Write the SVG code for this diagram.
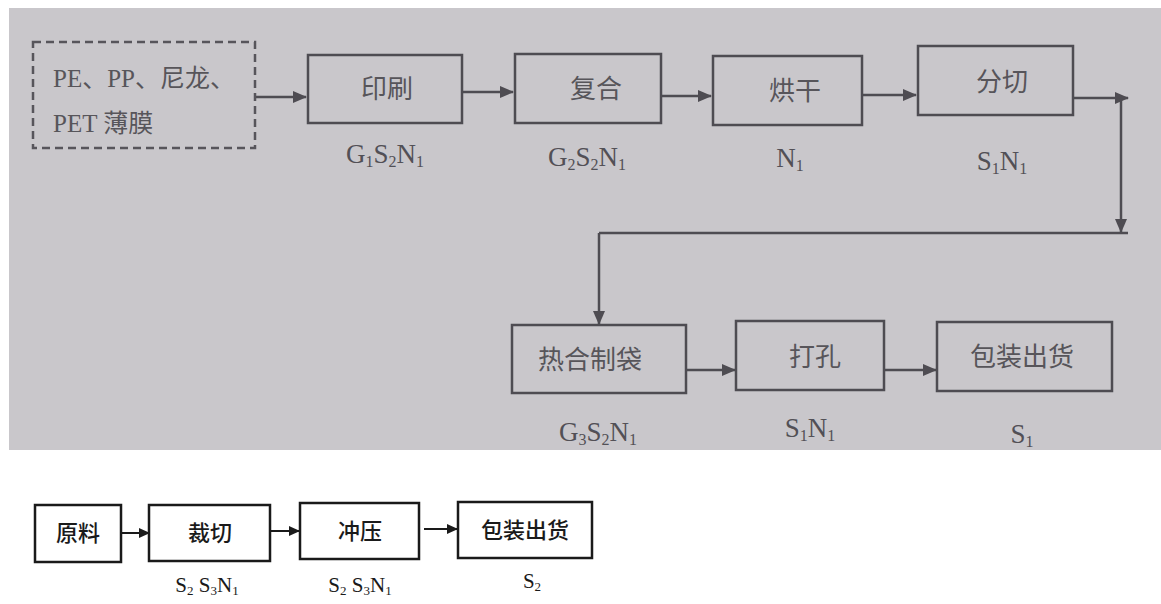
<svg xmlns="http://www.w3.org/2000/svg" width="1161" height="604" viewBox="0 0 1161 604">
<style>
.bg{fill:#c9c7cb}
.tbox{fill:none;stroke:#4e4c52;stroke-width:2.5}
.dbox{fill:none;stroke:#57555b;stroke-width:2.5;stroke-dasharray:8 5}
.ttxt{font-family:"Liberation Serif","Noto Sans CJK SC",serif;font-size:26px;fill:#57555a;text-anchor:middle}
.ftxt{font-family:"Liberation Serif","Noto Sans CJK SC",serif;font-size:25px;fill:#57555a}
.tlab{font-family:"Liberation Serif",serif;font-size:27px;fill:#525056;text-anchor:middle}
.sub{font-size:16px}
.bsub{font-size:13px}
.tline{fill:none;stroke:#4e4c52;stroke-width:2.5}
.bbox{fill:#fff;stroke:#1a1a1a;stroke-width:2.5}
.btxt{font-family:"Noto Sans CJK SC",sans-serif;font-size:22px;font-weight:500;fill:#1a1a1a;text-anchor:middle}
.blab{font-family:"Liberation Serif",serif;font-size:21px;fill:#1a1a1a;text-anchor:middle}
.bline{fill:none;stroke:#1a1a1a;stroke-width:2}
</style>
<defs>
<marker id="ta" markerWidth="14" markerHeight="12" refX="13" refY="6" orient="auto" markerUnits="userSpaceOnUse">
<path d="M0,0 L14,6 L0,12 Z" fill="#4e4c52"/>
</marker>
<marker id="ba" markerWidth="11" markerHeight="10" refX="10" refY="5" orient="auto" markerUnits="userSpaceOnUse">
<path d="M0,0 L11,5 L0,10 Z" fill="#1a1a1a"/>
</marker>
</defs>
<rect class="bg" x="9" y="8" width="1152" height="442"/>

<g id="connectors">
<line class="tline" x1="255" y1="97" x2="306" y2="97" marker-end="url(#ta)"/>
<line class="tline" x1="462" y1="92" x2="513" y2="92" marker-end="url(#ta)"/>
<line class="tline" x1="661" y1="96" x2="711" y2="96" marker-end="url(#ta)"/>
<line class="tline" x1="862" y1="95" x2="916" y2="95" marker-end="url(#ta)"/>
<line class="tline" x1="1073" y1="98" x2="1128" y2="98" marker-end="url(#ta)"/>
<line class="tline" x1="1121" y1="98" x2="1121" y2="232" marker-end="url(#ta)"/>
<line class="tline" x1="599" y1="233" x2="1128" y2="233"/>
<line class="tline" x1="599" y1="233" x2="599" y2="324" marker-end="url(#ta)"/>
<line class="tline" x1="686" y1="370" x2="735" y2="370" marker-end="url(#ta)"/>
<line class="tline" x1="884" y1="370" x2="936" y2="370" marker-end="url(#ta)"/>
<line class="bline" x1="120" y1="533" x2="149" y2="533" marker-end="url(#ba)"/>
<line class="bline" x1="270" y1="531" x2="299" y2="531" marker-end="url(#ba)"/>
<line class="bline" x1="424" y1="529" x2="457" y2="529" marker-end="url(#ba)"/>
</g>

<g id="film">
<rect class="dbox" x="33" y="42" width="222" height="106"/>
<text class="ftxt" x="53" y="87">PE、PP、尼龙、</text>
<text class="ftxt" x="53" y="132">PET 薄膜</text>
</g>
<g id="print">
<rect class="tbox" x="308" y="55" width="154" height="68"/>
<text class="ttxt" x="387" y="98">印刷</text>
<text class="tlab" x="385" y="163">G<tspan class="sub" dy="4">1</tspan><tspan dy="-4">S</tspan><tspan class="sub" dy="4">2</tspan><tspan dy="-4">N</tspan><tspan class="sub" dy="4">1</tspan></text>
</g>
<g id="laminate">
<rect class="tbox" x="515" y="54" width="146" height="69"/>
<text class="ttxt" x="596" y="98">复合</text>
<text class="tlab" x="587" y="166">G<tspan class="sub" dy="4">2</tspan><tspan dy="-4">S</tspan><tspan class="sub" dy="4">2</tspan><tspan dy="-4">N</tspan><tspan class="sub" dy="4">1</tspan></text>
</g>
<g id="dry">
<rect class="tbox" x="713" y="56" width="149" height="69"/>
<text class="ttxt" x="795" y="100">烘干</text>
<text class="tlab" x="790" y="167">N<tspan class="sub" dy="4">1</tspan></text>
</g>
<g id="slit">
<rect class="tbox" x="918" y="46" width="155" height="69"/>
<text class="ttxt" x="1002" y="91">分切</text>
<text class="tlab" x="1002" y="170">S<tspan class="sub" dy="4">1</tspan><tspan dy="-4">N</tspan><tspan class="sub" dy="4">1</tspan></text>
</g>
<g id="bagmaking">
<rect class="tbox" x="512" y="325" width="174" height="68"/>
<text class="ttxt" x="590" y="369">热合制袋</text>
<text class="tlab" x="598" y="441">G<tspan class="sub" dy="4">3</tspan><tspan dy="-4">S</tspan><tspan class="sub" dy="4">2</tspan><tspan dy="-4">N</tspan><tspan class="sub" dy="4">1</tspan></text>
</g>
<g id="punch">
<rect class="tbox" x="736" y="321" width="148" height="69"/>
<text class="ttxt" x="815" y="366">打孔</text>
<text class="tlab" x="810" y="437">S<tspan class="sub" dy="4">1</tspan><tspan dy="-4">N</tspan><tspan class="sub" dy="4">1</tspan></text>
</g>
<g id="ship1">
<rect class="tbox" x="937" y="322" width="175" height="69"/>
<text class="ttxt" x="1022" y="366">包装出货</text>
<text class="tlab" x="1022" y="443">S<tspan class="sub" dy="4">1</tspan></text>
</g>

<g id="raw">
<rect class="bbox" x="35" y="505" width="86" height="57"/>
<text class="btxt" x="78" y="541">原料</text>
</g>
<g id="cut">
<rect class="bbox" x="149" y="505" width="121" height="56"/>
<text class="btxt" x="210" y="541">裁切</text>
<text class="blab" x="207" y="592">S<tspan class="bsub" dy="3">2</tspan><tspan dy="-3"> S</tspan><tspan class="bsub" dy="3">3</tspan><tspan dy="-3">N</tspan><tspan class="bsub" dy="3">1</tspan></text>
</g>
<g id="stamp">
<rect class="bbox" x="300" y="503" width="119" height="56"/>
<text class="btxt" x="360" y="539">冲压</text>
<text class="blab" x="360" y="592">S<tspan class="bsub" dy="3">2</tspan><tspan dy="-3"> S</tspan><tspan class="bsub" dy="3">3</tspan><tspan dy="-3">N</tspan><tspan class="bsub" dy="3">1</tspan></text>
</g>
<g id="ship2">
<rect class="bbox" x="458" y="502" width="134" height="56"/>
<text class="btxt" x="525" y="538">包装出货</text>
<text class="blab" x="532" y="588">S<tspan class="bsub" dy="3">2</tspan></text>
</g>
</svg>
